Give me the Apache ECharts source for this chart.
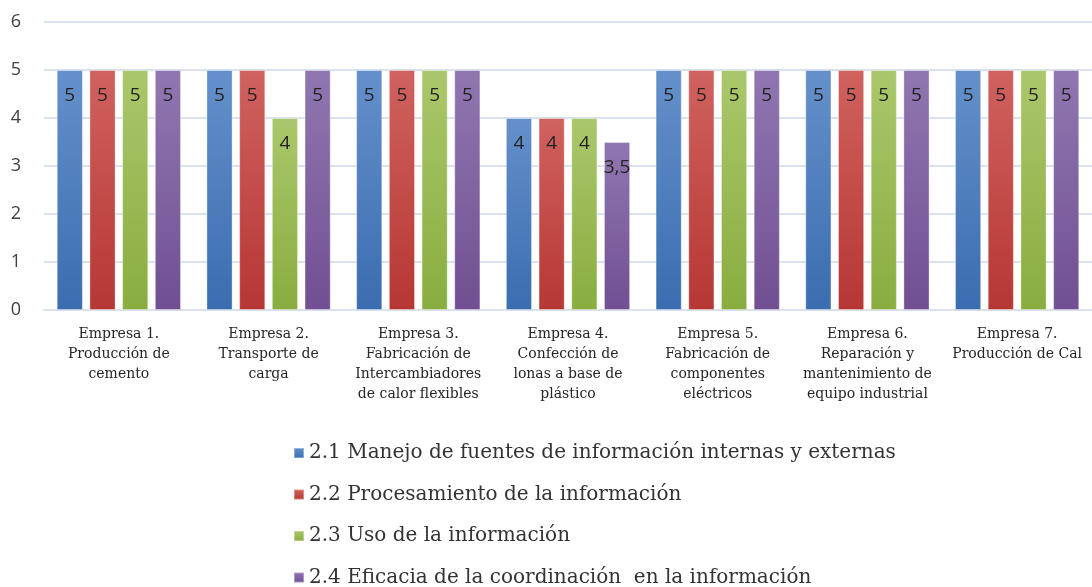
<!DOCTYPE html>
<html>
<head>
<meta charset="utf-8">
<script src="https://cdn.jsdelivr.net/npm/echarts@6/dist/echarts.min.js"></script>
<style>
  html, body { margin: 0; padding: 0; background: #fff; }
  #main { width: 1092px; height: 587px; }
</style>
</head>
<body>
<div id="main"></div>
<script>
const categories = [
  'Empresa 1.\nProducción de\ncemento',
  'Empresa 2.\nTransporte de\ncarga',
  'Empresa 3.\nFabricación de\nIntercambiadores\nde calor flexibles',
  'Empresa 4.\nConfección de\nlonas a base de\nplástico',
  'Empresa 5.\nFabricación de\ncomponentes\neléctricos',
  'Empresa 6.\nReparación y\nmantenimiento de\nequipo industrial',
  'Empresa 7.\nProducción de Cal'
]
const seriesNames = [
  '2.1 Manejo de fuentes de información internas y externas',
  '2.2 Procesamiento de la información',
  '2.3 Uso de la información',
  '2.4 Eficacia de la coordinación  en la información'
]
const manejo = [5, 5, 5, 4, 5, 5, 5]
const procesamiento = [5, 5, 5, 4, 5, 5, 5]
const uso = [5, 4, 5, 4, 5, 5, 5]
const eficacia = [5, 5, 5, 3.5, 5, 5, 5]

// top colour, bottom colour, legend colour
const colors = [
  ['#6590cb', '#3a6daf', '#4f81bd'],
  ['#d0625f', '#b63733', '#c0504d'],
  ['#abc76c', '#89ad3f', '#9bbb59'],
  ['#9077b1', '#714f92', '#8064a2']
]

const makeSeries = (name, data, c) => {
  return {
    name: name,
    type: 'bar',
    data: data,
    barGap: '25%',
    barCategoryGap: '17%',
    itemStyle: {
      color: new echarts.graphic.LinearGradient(0, 0, 0, 1, [
        { offset: 0, color: c[0] },
        { offset: 1, color: c[1] }
      ]),
      borderColor: 'rgba(255,255,255,0.35)',
      borderWidth: 1
    },
    label: {
      show: true,
      position: 'insideTop',
      distance: 16,
      fontFamily: 'Open Sans',
      fontSize: 19,
      color: '#222',
      formatter: p => String(p.value).replace('.', ',')
    }
  }
}

const myChart = echarts.init(document.getElementById('main'))
myChart.setOption({
  animation: false,
  color: colors.map(c => c[2]),
  grid: {
    left: 44,
    top: 22,
    width: 1050,
    height: 288,
    containLabel: false
  },
  legend: {
    orient: 'vertical',
    left: 288,
    top: 438,
    height: 200,
    itemWidth: 10,
    itemHeight: 10,
    itemGap: 21.5,
    icon: 'rect',
    textStyle: {
      fontFamily: 'DejaVu Serif',
      fontSize: 20,
      color: '#333'
    },
    data: seriesNames
  },
  xAxis: {
    type: 'category',
    data: categories,
    axisLine: { lineStyle: { color: '#d9e2ef', width: 2 } },
    axisTick: { show: false },
    axisLabel: {
      interval: 0,
      margin: 14,
      fontFamily: 'DejaVu Serif',
      fontSize: 14,
      lineHeight: 20,
      color: '#262626'
    }
  },
  yAxis: {
    type: 'value',
    min: 0,
    max: 6,
    interval: 1,
    axisLine: { show: false },
    axisTick: { show: false },
    splitLine: { lineStyle: { color: '#d9e2ef', width: 2 } },
    axisLabel: {
      margin: 23,
      fontFamily: 'Open Sans',
      fontSize: 18,
      color: '#404040'
    }
  },
  series: [
    makeSeries(seriesNames[0], manejo, colors[0]),
    makeSeries(seriesNames[1], procesamiento, colors[1]),
    makeSeries(seriesNames[2], uso, colors[2]),
    makeSeries(seriesNames[3], eficacia, colors[3])
  ]
})
</script>
</body>
</html>
